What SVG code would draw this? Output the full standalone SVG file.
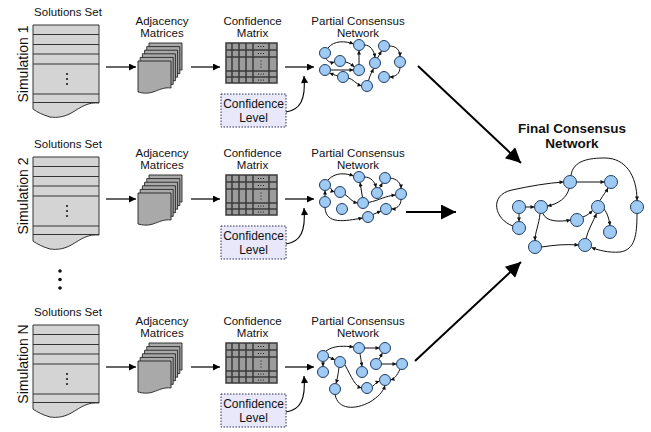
<svg xmlns="http://www.w3.org/2000/svg" xmlns:xlink="http://www.w3.org/1999/xlink" width="651" height="432" viewBox="0 0 651 432">
<style>
text{font-family:"Liberation Sans",Arial,sans-serif;fill:#111;}
.lbl{font-size:11.5px;text-anchor:middle;}
.sim{font-size:14px;text-anchor:middle;}
.title{font-size:13.5px;font-weight:bold;text-anchor:middle;}
.doc{fill:#d4d4d4;stroke:#333;stroke-width:1;}
.docline{fill:none;stroke:#333;stroke-width:1;}
.page{fill:#a9a9a9;stroke:#222;stroke-width:0.9;}
.mat{fill:#9c9c9c;stroke:#3a3a3a;stroke-width:1.5;}
.matline{fill:none;stroke:#3a3a3a;stroke-width:1.5;}
.clev{fill:#e8e8fa;stroke:#2a2a55;stroke-width:1;stroke-dasharray:1.5 1.5;}
.clt{font-size:12px;text-anchor:middle;}
.node{fill:#9fcaf3;stroke:#203d64;stroke-width:1;}
.pa{fill:none;stroke:#000;stroke-width:1.2;marker-end:url(#ap);}
.ca{fill:none;stroke:#000;stroke-width:1.1;marker-end:url(#ap);}
.e{fill:none;stroke:#111;stroke-width:1;marker-end:url(#an);}
.big{fill:none;stroke:#000;stroke-width:2;marker-end:url(#ab);}
.dot{fill:#111;}
</style>
<defs>
<marker id="ap" viewBox="0 0 10 10" refX="10" refY="5" markerUnits="userSpaceOnUse" markerWidth="8" markerHeight="7" orient="auto"><path d="M0,0 L10,5 L0,10 z" fill="#000"/></marker>
<marker id="an" viewBox="0 0 10 10" refX="10" refY="5" markerUnits="userSpaceOnUse" markerWidth="4.5" markerHeight="4" orient="auto"><path d="M0,0 L10,5 L0,10 z" fill="#111"/></marker>
<marker id="ab" viewBox="0 0 10 10" refX="10" refY="5" markerUnits="userSpaceOnUse" markerWidth="20" markerHeight="15" orient="auto"><path d="M0,0 L10,5 L0,10 z" fill="#000"/></marker>
<g id="docShape">
<path class="doc" d="M0,0 H66 V78 C55,77 48,82 40,87 C32,92 24,93 17,92 C10,90 4,87 0,84 Z"/>
<path class="docline" d="M0,9.5 H66 M0,19.5 H66 M0,29 H66 M0,39 H66 M0,69 H66 M0,77.5 H66"/>
<circle class="dot" cx="34" cy="49" r="1"/><circle class="dot" cx="34" cy="54" r="1"/><circle class="dot" cx="34" cy="59" r="1"/>
</g>
<path id="pg" class="page" d="M0,0 H33 V27 C26,26 21,29 15,31 C9,33 4,32 0,31 Z"/>
<g id="stack">
<use xlink:href="#pg" x="11" y="-18"/>
<use xlink:href="#pg" x="8.8" y="-14.4"/>
<use xlink:href="#pg" x="6.6" y="-10.8"/>
<use xlink:href="#pg" x="4.4" y="-7.2"/>
<use xlink:href="#pg" x="2.2" y="-3.6"/>
<use xlink:href="#pg" x="0" y="0"/>
</g>
<g id="matrix">
<rect class="mat" x="0" y="0" width="51" height="40"/>
<path class="matline" d="M6,0 V40 M13,0 V40 M20,0 V40 M27,0 V40 M43,0 V40 M0,7 H51 M0,14 H51 M0,28 H51 M0,34 H51"/>
<g class="dot">
<circle cx="32.5" cy="3.5" r="0.6"/><circle cx="35" cy="3.5" r="0.6"/><circle cx="37.5" cy="3.5" r="0.6"/>
<circle cx="32.5" cy="10.5" r="0.6"/><circle cx="35" cy="10.5" r="0.6"/><circle cx="37.5" cy="10.5" r="0.6"/>
<circle cx="35" cy="18" r="0.6"/><circle cx="35" cy="21" r="0.6"/><circle cx="35" cy="24" r="0.6"/>
<circle cx="32.5" cy="31" r="0.6"/><circle cx="35" cy="31" r="0.6"/><circle cx="37.5" cy="31" r="0.6"/>
<circle cx="32.5" cy="37" r="0.6"/><circle cx="35" cy="37" r="0.6"/><circle cx="37.5" cy="37" r="0.6"/>
</g>
</g>
</defs>

<!-- Row 1 -->
<g id="sim1-label"><text class="sim" transform="translate(27.5,64) rotate(-90)">Simulation 1</text></g>
<g id="sim1-solutions"><text class="lbl" x="68" y="16">Solutions Set</text><use xlink:href="#docShape" transform="translate(33,25)"/></g>
<g id="sim1-adjacency"><text class="lbl" x="162" y="25">Adjacency</text><text class="lbl" x="162" y="37">Matrices</text><use xlink:href="#stack" transform="translate(138,61)"/></g>
<g id="sim1-confmatrix"><text class="lbl" x="252.5" y="25">Confidence</text><text class="lbl" x="252.5" y="37">Matrix</text><use xlink:href="#matrix" transform="translate(226,43)"/></g>
<g id="sim1-conflevel"><rect class="clev" x="221" y="94" width="65" height="33"/><text class="clt" x="253.5" y="107.5">Confidence</text><text class="clt" x="253.5" y="121.5">Level</text></g>
<g id="sim1-network">
<text class="lbl" x="358" y="25">Partial Consensus</text><text class="lbl" x="358" y="37">Network</text>
<g class="edges">
<path class="e" d="M328,48 C334,40 346,41 353.5,44"/>
<path class="e" d="M326,58.5 C328,62 331,63 334.5,62"/>
<path class="e" d="M330.5,70 L353.5,70"/>
<path class="e" d="M345.5,62 C350,63 352,65 354.5,67"/>
<path class="e" d="M359,64.5 L359,50.5"/>
<path class="e" d="M338,76 C334,75 332,74 329.5,73"/>
<path class="e" d="M348.5,78 C353,79 356,84 361.5,86"/>
<path class="e" d="M368.5,80.5 C370,75 372,72 373.5,68.5"/>
<path class="e" d="M364.5,45 C370,45 374,50 375,57.5"/>
<path class="e" d="M377.5,58 L381.5,51"/>
<path class="e" d="M389.5,46 C396,46 400,50 400,56.5"/>
<path class="e" d="M400,67.5 C400,74 395,77 389.5,77"/>
</g>
<g>
<circle class="node" cx="325" cy="53" r="5.5"/><circle class="node" cx="340" cy="61" r="5.5"/><circle class="node" cx="359" cy="45" r="5.5"/>
<circle class="node" cx="325" cy="70" r="5.5"/><circle class="node" cx="359" cy="70" r="5.5"/><circle class="node" cx="343" cy="77" r="5.5"/>
<circle class="node" cx="367" cy="86" r="5.5"/><circle class="node" cx="375" cy="63" r="5.5"/><circle class="node" cx="384" cy="46" r="5.5"/>
<circle class="node" cx="400" cy="62" r="5.5"/><circle class="node" cx="384" cy="77" r="5.5"/>
</g>
</g>

<!-- Row 2 -->
<g id="sim2-label"><text class="sim" transform="translate(27.5,196) rotate(-90)">Simulation 2</text></g>
<g id="sim2-solutions"><text class="lbl" x="68" y="148">Solutions Set</text><use xlink:href="#docShape" transform="translate(33,157)"/></g>
<g id="sim2-adjacency"><text class="lbl" x="162" y="157">Adjacency</text><text class="lbl" x="162" y="169">Matrices</text><use xlink:href="#stack" transform="translate(138,193)"/></g>
<g id="sim2-confmatrix"><text class="lbl" x="252.5" y="157">Confidence</text><text class="lbl" x="252.5" y="169">Matrix</text><use xlink:href="#matrix" transform="translate(226,175)"/></g>
<g id="sim2-conflevel"><rect class="clev" x="221" y="226" width="65" height="33"/><text class="clt" x="253.5" y="239.5">Confidence</text><text class="clt" x="253.5" y="253.5">Level</text></g>
<g id="sim2-network">
<text class="lbl" x="358" y="157">Partial Consensus</text><text class="lbl" x="358" y="169">Network</text>
<g class="edges">
<path class="e" d="M328,180 C335,172 346,173 353.5,176"/>
<path class="e" d="M330,187.5 C332,190 333,191.5 334.5,192"/>
<path class="e" d="M325,196.5 L325,190.5"/>
<path class="e" d="M345,194.5 C350,198 352,202 357.5,203"/>
<path class="e" d="M362.5,197.5 L360,182.5"/>
<path class="e" d="M325,207.5 C326,225 345,221 362.5,218"/>
<path class="e" d="M368.5,202.5 C380,200 385,196 395.5,195"/>
<path class="e" d="M364.5,177 C371,177 375,182 376,187.5"/>
<path class="e" d="M379.5,188 L382.5,183"/>
<path class="e" d="M390.5,178 C397,179 401,183 401,188.5"/>
<path class="e" d="M401,199.5 C401,206 396,209 391.5,209"/>
<path class="e" d="M373,214.5 L381,211"/>
</g>
<g>
<circle class="node" cx="325" cy="185" r="5.5"/><circle class="node" cx="325" cy="202" r="5.5"/><circle class="node" cx="340" cy="192" r="5.5"/>
<circle class="node" cx="359" cy="177" r="5.5"/><circle class="node" cx="342" cy="209" r="5.5"/><circle class="node" cx="363" cy="203" r="5.5"/>
<circle class="node" cx="368" cy="217" r="5.5"/><circle class="node" cx="377" cy="193" r="5.5"/><circle class="node" cx="385" cy="178" r="5.5"/>
<circle class="node" cx="401" cy="194" r="5.5"/><circle class="node" cx="386" cy="209" r="5.5"/>
</g>
</g>

<!-- vertical ellipsis between rows -->
<g id="ellipsis"><circle class="dot" cx="60" cy="271" r="1.8"/><circle class="dot" cx="60" cy="279.5" r="1.8"/><circle class="dot" cx="60" cy="288" r="1.8"/></g>

<!-- Row 3 -->
<g id="simN-label"><text class="sim" transform="translate(27.5,364) rotate(-90)">Simulation N</text></g>
<g id="simN-solutions"><text class="lbl" x="68" y="316">Solutions Set</text><use xlink:href="#docShape" transform="translate(33,325)"/></g>
<g id="simN-adjacency"><text class="lbl" x="162" y="325">Adjacency</text><text class="lbl" x="162" y="337">Matrices</text><use xlink:href="#stack" transform="translate(138,361)"/></g>
<g id="simN-confmatrix"><text class="lbl" x="252.5" y="325">Confidence</text><text class="lbl" x="252.5" y="337">Matrix</text><use xlink:href="#matrix" transform="translate(226,343)"/></g>
<g id="simN-conflevel"><rect class="clev" x="221" y="394" width="65" height="33"/><text class="clt" x="253.5" y="407.5">Confidence</text><text class="clt" x="253.5" y="421.5">Level</text></g>
<g id="simN-network">
<text class="lbl" x="358" y="325">Partial Consensus</text><text class="lbl" x="358" y="337">Network</text>
<g class="edges">
<path class="e" d="M326,351 C334,345 345,346 353.5,347"/>
<path class="e" d="M364.5,348 L379.5,348"/>
<path class="e" d="M323,361.5 L323,366.5"/>
<path class="e" d="M328.5,357 C331,358 333,359 335,360"/>
<path class="e" d="M339,367.5 C338,375 337,380 336,383.5"/>
<path class="e" d="M345,365 C352,378 355,386 361.5,388"/>
<path class="e" d="M360,353.5 C361,360 361.5,363 362,366.5"/>
<path class="e" d="M379,359 L382.5,353"/>
<path class="e" d="M381.5,364 L396.5,364"/>
<path class="e" d="M372.5,386.5 C375,384 377,382 379.5,381"/>
<path class="e" d="M335,394.5 C338,410 355,410 370,402 C378,397 383,392 385,385.5"/>
<path class="e" d="M400,369 C397,376 394,379 390.5,380"/>
</g>
<g>
<circle class="node" cx="323" cy="356" r="5.5"/><circle class="node" cx="323" cy="372" r="5.5"/><circle class="node" cx="340" cy="362" r="5.5"/>
<circle class="node" cx="359" cy="348" r="5.5"/><circle class="node" cx="362" cy="372" r="5.5"/><circle class="node" cx="367" cy="388" r="5.5"/>
<circle class="node" cx="376" cy="364" r="5.5"/><circle class="node" cx="385" cy="348" r="5.5"/><circle class="node" cx="402" cy="364" r="5.5"/>
<circle class="node" cx="385" cy="380" r="5.5"/><circle class="node" cx="335" cy="389" r="5.5"/>
</g>
</g>

<!-- Final network -->
<g id="final-network">
<text class="title" x="572" y="133">Final Consensus</text><text class="title" x="572" y="148">Network</text>
<g class="edges">
<path class="e" d="M576.5,182 L604.5,182"/>
<path class="e" d="M569,188.5 C567,198 558,204 547.5,206"/>
<path class="e" d="M513,226 C495,220 488,195 512,190 C530,186 548,183 563.5,182"/>
<path class="e" d="M571,175.5 C573,160 590,158 605,158 C625,158 637,175 637,200.5"/>
<path class="e" d="M525.5,207 L534.5,207"/>
<path class="e" d="M519,213.5 L519,221.5"/>
<path class="e" d="M543,213.5 C546,222 560,222 570.5,220"/>
<path class="e" d="M540,213.5 C539,225 535,232 535,240.5"/>
<path class="e" d="M541.5,247 C555,245 565,244 578.5,245"/>
<path class="e" d="M583,217 C588,215 590,213 592.5,210.5"/>
<path class="e" d="M600,200.5 C603,195 606,192 608,188"/>
<path class="e" d="M604,209 C607,213 609,218 610,225.5"/>
<path class="e" d="M586,238.5 C588,230 593,222 596.5,213.5"/>
<path class="e" d="M637,213.5 C637,235 635,250 620,252 C608,253 598,250 591.5,247.5"/>
</g>
<g>
<circle class="node" cx="570" cy="182" r="6.5"/><circle class="node" cx="611" cy="182" r="6.5"/><circle class="node" cx="519" cy="207" r="6.5"/>
<circle class="node" cx="541" cy="207" r="6.5"/><circle class="node" cx="637" cy="207" r="6.5"/><circle class="node" cx="598" cy="207" r="6.5"/>
<circle class="node" cx="577" cy="220" r="6.5"/><circle class="node" cx="519" cy="228" r="6.5"/><circle class="node" cx="610" cy="232" r="6.5"/>
<circle class="node" cx="535" cy="247" r="6.5"/><circle class="node" cx="585" cy="245" r="6.5"/>
</g>
</g>

<!-- Connectors -->
<g id="connectors">
<path class="pa" d="M106,67 L136,67"/>
<path class="pa" d="M191,67 L220,67"/>
<path class="pa" d="M285,67 L314,67"/>
<path class="ca" d="M286,112 C300,110 306,100 304,76"/>
<path class="pa" d="M106,199 L136,199"/>
<path class="pa" d="M191,199 L220,199"/>
<path class="pa" d="M285,199 L314,199"/>
<path class="ca" d="M286,244 C300,242 306,232 304,208"/>
<path class="pa" d="M106,367 L136,367"/>
<path class="pa" d="M191,367 L220,367"/>
<path class="pa" d="M285,367 L314,367"/>
<path class="ca" d="M286,412 C300,410 306,400 304,376"/>
<path class="big" d="M418,66 L521,163"/>
<path class="big" d="M406,212 L456,212"/>
<path class="big" d="M415,361 L521,262"/>
</g>
</svg>
